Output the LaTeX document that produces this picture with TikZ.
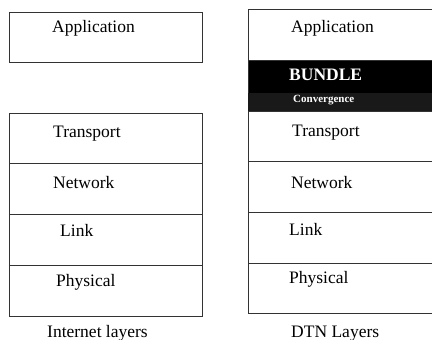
\documentclass[tikz,border=0pt]{standalone}
\usepackage{fontspec}
\setmainfont{Liberation Serif}
\usetikzlibrary{positioning}

\begin{document}
\begin{tikzpicture}[x=1pt,y=-1pt,
  layer box/.style={draw=black!80,line width=1.1pt,inner sep=0pt,anchor=north west},
  layer text/.style={anchor=base west,inner sep=0pt,font=\fontsize{17.5}{20}\selectfont},
  caption text/.style={layer text}]

  \useasboundingbox (0,0) rectangle (432,340);
  \clip (0,0) rectangle (432,340);

  % internet stack
  \node[layer box,minimum width=193pt,minimum height=50pt] (iapp) at (9,12) {};
  \node[layer box,minimum width=193pt,minimum height=50pt] (itra) at (9,113) {};
  \node[layer box,minimum width=193pt,minimum height=51pt] (inet) at (9,163) {};
  \node[layer box,minimum width=193pt,minimum height=51pt] (ilnk) at (9,214) {};
  \node[layer box,minimum width=193pt,minimum height=51pt] (iphy) at (9,265) {};

  \node[layer text] at (52,32) {Application};
  \node[layer text] at (53,137) {Transport};
  \node[layer text] at (53,188) {Network};
  \node[layer text] at (60,236) {Link};
  \node[layer text] at (56,286) {Physical};
  \node[caption text] at (47,337) {Internet layers};

  % dtn stack
  \node[layer box,minimum width=200pt,minimum height=51pt] (dapp) at (248,9) {};
  \node[layer box,fill=black,minimum width=200pt,minimum height=33pt] (dbun) at (248,60) {};
  \node[layer box,draw=black!90,fill=black!90,minimum width=200pt,minimum height=18pt] (dcon) at (248,93) {};
  \node[layer box,minimum width=200pt,minimum height=50pt] (dtra) at (248,111) {};
  \node[layer box,minimum width=200pt,minimum height=51pt] (dnet) at (248,161) {};
  \node[layer box,minimum width=200pt,minimum height=51pt] (dlnk) at (248,212) {};
  \node[layer box,minimum width=200pt,minimum height=50pt] (dphy) at (248,263) {};

  \node[layer text] at (291,32) {Application};
  \node[layer text,text=white,font=\fontsize{17.5}{20}\selectfont\bfseries] at (289,80) {BUNDLE};
  \node[layer text,text=white,font=\fontsize{11}{12}\selectfont\bfseries] at (293,102) {Convergence};
  \node[layer text] at (292,136) {Transport};
  \node[layer text] at (291,188) {Network};
  \node[layer text] at (289,235) {Link};
  \node[layer text] at (289,283) {Physical};
  \node[caption text] at (291,337) {DTN Layers};
\end{tikzpicture}
\end{document}
